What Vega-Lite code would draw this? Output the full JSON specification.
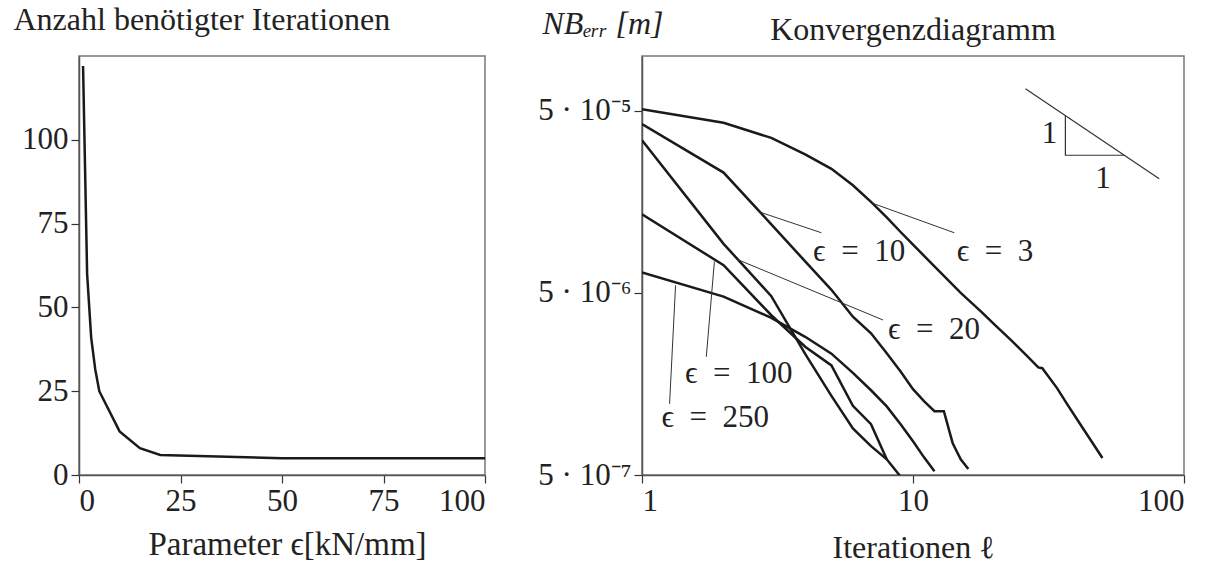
{
  "$schema": "https://vega.github.io/schema/vega-lite/v6.json",
  "background": "white",
  "padding": {"left": 12, "top": 2, "right": 5, "bottom": 0},
  "bounds": "flush",
  "spacing": 157,
  "config": {
    "font": "Liberation Serif",
    "view": {"stroke": "#777", "strokeWidth": 1.5},
    "axis": {
      "grid": false,
      "domainColor": "#555",
      "domainWidth": 1.5,
      "tickColor": "#333",
      "tickSize": 8,
      "tickWidth": 1.2,
      "labelFont": "Liberation Serif",
      "labelFontSize": 31,
      "labelColor": "#222",
      "labelPadding": 3,
      "titleFont": "Liberation Serif",
      "titleFontSize": 32,
      "titleFontWeight": "normal",
      "titleColor": "#222"
    },
    "title": {"font": "Liberation Serif", "fontSize": 32, "fontWeight": "normal", "color": "#222"}
  },
  "datasets": {
    "iterations": [
      {"eps": 1, "iter": 122},
      {"eps": 2, "iter": 60},
      {"eps": 3, "iter": 41},
      {"eps": 4, "iter": 31.5},
      {"eps": 5, "iter": 25},
      {"eps": 10, "iter": 13},
      {"eps": 15, "iter": 8},
      {"eps": 20, "iter": 6},
      {"eps": 50, "iter": 5},
      {"eps": 100, "iter": 5}
    ],
    "convergence": [
      {"series": "3", "it": 1, "err": 5.1e-5},
      {"series": "3", "it": 2, "err": 4.3e-5},
      {"series": "3", "it": 3, "err": 3.55e-5},
      {"series": "3", "it": 4, "err": 2.88e-5},
      {"series": "3", "it": 5, "err": 2.4e-5},
      {"series": "3", "it": 6, "err": 1.95e-5},
      {"series": "3", "it": 7, "err": 1.58e-5},
      {"series": "3", "it": 8, "err": 1.3e-5},
      {"series": "3", "it": 9, "err": 1.08e-5},
      {"series": "3", "it": 10, "err": 9.2e-6},
      {"series": "3", "it": 12, "err": 7.0e-6},
      {"series": "3", "it": 15, "err": 5.0e-6},
      {"series": "3", "it": 18, "err": 3.9e-6},
      {"series": "3", "it": 20, "err": 3.35e-6},
      {"series": "3", "it": 23, "err": 2.75e-6},
      {"series": "3", "it": 26, "err": 2.3e-6},
      {"series": "3", "it": 29, "err": 1.95e-6},
      {"series": "3", "it": 30, "err": 1.93e-6},
      {"series": "3", "it": 34, "err": 1.5e-6},
      {"series": "3", "it": 37, "err": 1.23e-6},
      {"series": "3", "it": 42, "err": 9.2e-7},
      {"series": "3", "it": 46, "err": 7.5e-7},
      {"series": "3", "it": 50, "err": 6.2e-7},
      {"series": "10", "it": 1, "err": 4.23e-5},
      {"series": "10", "it": 2, "err": 2.29e-5},
      {"series": "10", "it": 3, "err": 1.19e-5},
      {"series": "10", "it": 4, "err": 7.45e-6},
      {"series": "10", "it": 5, "err": 5.2e-6},
      {"series": "10", "it": 6, "err": 3.7e-6},
      {"series": "10", "it": 7, "err": 3.0e-6},
      {"series": "10", "it": 8, "err": 2.33e-6},
      {"series": "10", "it": 9, "err": 1.85e-6},
      {"series": "10", "it": 10, "err": 1.48e-6},
      {"series": "10", "it": 11, "err": 1.27e-6},
      {"series": "10", "it": 12, "err": 1.12e-6},
      {"series": "10", "it": 13, "err": 1.12e-6},
      {"series": "10", "it": 14, "err": 7.5e-7},
      {"series": "10", "it": 15, "err": 6.1e-7},
      {"series": "10", "it": 16, "err": 5.4e-7},
      {"series": "20", "it": 1, "err": 3.45e-5},
      {"series": "20", "it": 2, "err": 9.3e-6},
      {"series": "20", "it": 3, "err": 4.8e-6},
      {"series": "20", "it": 4, "err": 2.31e-6},
      {"series": "20", "it": 5, "err": 1.36e-6},
      {"series": "20", "it": 6, "err": 9.0e-7},
      {"series": "20", "it": 7, "err": 7.2e-7},
      {"series": "20", "it": 8, "err": 6.1e-7},
      {"series": "20", "it": 9, "err": 4.9e-7},
      {"series": "100", "it": 1, "err": 1.35e-5},
      {"series": "100", "it": 2, "err": 7.1e-6},
      {"series": "100", "it": 3, "err": 3.77e-6},
      {"series": "100", "it": 4, "err": 2.53e-6},
      {"series": "100", "it": 5, "err": 2.0e-6},
      {"series": "100", "it": 6, "err": 1.2e-6},
      {"series": "100", "it": 7, "err": 9.5e-7},
      {"series": "100", "it": 8, "err": 6.1e-7},
      {"series": "250", "it": 1, "err": 6.47e-6},
      {"series": "250", "it": 2, "err": 4.77e-6},
      {"series": "250", "it": 3, "err": 3.65e-6},
      {"series": "250", "it": 4, "err": 2.87e-6},
      {"series": "250", "it": 5, "err": 2.32e-6},
      {"series": "250", "it": 6, "err": 1.82e-6},
      {"series": "250", "it": 7, "err": 1.46e-6},
      {"series": "250", "it": 8, "err": 1.19e-6},
      {"series": "250", "it": 9, "err": 9.5e-7},
      {"series": "250", "it": 10, "err": 7.66e-7},
      {"series": "250", "it": 11, "err": 6.23e-7},
      {"series": "250", "it": 12, "err": 5.25e-7}
    ],
    "leaders": [
      {"id": "3", "o": 1, "x": 7.12, "y": 1.55e-5},
      {"id": "3", "o": 2, "x": 14.2, "y": 1.07e-5},
      {"id": "10", "o": 1, "x": 2.68, "y": 1.4e-5},
      {"id": "10", "o": 2, "x": 4.59, "y": 1.07e-5},
      {"id": "20", "o": 1, "x": 2.23, "y": 7.67e-6},
      {"id": "20", "o": 2, "x": 7.75, "y": 3.55e-6},
      {"id": "100", "o": 1, "x": 1.85, "y": 7.44e-6},
      {"id": "100", "o": 2, "x": 1.727, "y": 2.23e-6},
      {"id": "250", "o": 1, "x": 1.33, "y": 5.5e-6},
      {"id": "250", "o": 2, "x": 1.264, "y": 1.23e-6}
    ],
    "slope": [
      {"id": "line", "o": 1, "x": 26, "y": 6.6e-5},
      {"id": "line", "o": 2, "x": 81, "y": 2.12e-5},
      {"id": "tri", "o": 1, "x": 36.5, "y": 4.7e-5},
      {"id": "tri", "o": 2, "x": 36.5, "y": 2.85e-5},
      {"id": "tri", "o": 3, "x": 60, "y": 2.85e-5}
    ],
    "labels": [
      {"text": "ϵ\u2002=\u20023", "x": 14.5, "y": 8.4e-6},
      {"text": "ϵ\u2002=\u200210", "x": 4.28, "y": 8.36e-6},
      {"text": "ϵ\u2002=\u200220", "x": 8.09, "y": 3.13e-6},
      {"text": "ϵ\u2002=\u2002100", "x": 1.44, "y": 1.79e-6},
      {"text": "ϵ\u2002=\u2002250", "x": 1.18, "y": 1.03e-6}
    ],
    "ones": [
      {"text": "1", "x": 31.9, "y": 3.72e-5},
      {"text": "1", "x": 50.2, "y": 2.1e-5}
    ]
  },
  "hconcat": [
    {
      "width": 406,
      "height": 419,
      "data": {"name": "iterations"},
      "mark": {"type": "line", "stroke": "#1a1a1a", "strokeWidth": 2.5},
      "encoding": {
        "x": {
          "field": "eps",
          "type": "quantitative",
          "scale": {"domain": [0, 100], "nice": false},
          "axis": {"values": [0, 25, 50, 75, 100], "title": "Parameter  ϵ[kN/mm]", "titleFontSize": 33, "titleBaseline": "alphabetic", "titleY": 79, "titleX": 208}
        },
        "y": {
          "field": "iter",
          "type": "quantitative",
          "scale": {"domain": [0, 125], "nice": false},
          "axis": {
            "values": [0, 25, 50, 75, 100],
            "title": "Anzahl benötigter Iterationen",
            "titleAngle": 0,
            "titleAlign": "left",
            "titleBaseline": "alphabetic",
            "titleX": -66,
            "titleY": -27
          }
        }
      }
    },
    {
      "width": 542,
      "height": 419,
      "title": {"text": "Konvergenzdiagramm", "anchor": "middle", "offset": -40},
      "layer": [
        {
          "data": {"name": "convergence"},
          "mark": {"type": "line", "stroke": "#1a1a1a", "strokeWidth": 2.5, "clip": true},
          "encoding": {
            "x": {
              "field": "it",
              "type": "quantitative",
              "scale": {"type": "log", "domain": [1, 100], "nice": false},
              "axis": {"values": [1, 10, 100], "format": "d", "title": "Iterationen ℓ", "titleBaseline": "alphabetic", "titleY": 82}
            },
            "y": {
              "field": "err",
              "type": "quantitative",
              "scale": {"type": "log", "domain": [5e-7, 1e-4], "nice": false},
              "axis": {
                "values": [5e-7, 5e-6, 5e-5],
                "labelExpr": "datum.value < 1e-6 ? '5 · 10⁻⁷' : datum.value < 1e-5 ? '5 · 10⁻⁶' : '5 · 10⁻⁵'",
                "title": "NBₑᵣᵣ  [m]",
                "titleFontStyle": "italic",
                "titleAngle": 0,
                "titleAlign": "left",
                "titleBaseline": "alphabetic",
                "titleX": -100,
                "titleY": -23
              }
            },
            "detail": {"field": "series"}
          }
        },
        {
          "data": {"name": "leaders"},
          "mark": {"type": "line", "stroke": "#333", "strokeWidth": 1},
          "encoding": {
            "x": {"field": "x", "type": "quantitative"},
            "y": {"field": "y", "type": "quantitative"},
            "detail": {"field": "id"},
            "order": {"field": "o"}
          }
        },
        {
          "data": {"name": "slope"},
          "mark": {"type": "line", "stroke": "#333", "strokeWidth": 1.2},
          "encoding": {
            "x": {"field": "x", "type": "quantitative"},
            "y": {"field": "y", "type": "quantitative"},
            "detail": {"field": "id"},
            "order": {"field": "o"}
          }
        },
        {
          "data": {"name": "labels"},
          "mark": {"type": "text", "align": "left", "baseline": "middle", "fontSize": 31, "color": "#222", "font": "Liberation Serif"},
          "encoding": {
            "x": {"field": "x", "type": "quantitative"},
            "y": {"field": "y", "type": "quantitative"},
            "text": {"field": "text"}
          }
        },
        {
          "data": {"name": "ones"},
          "mark": {"type": "text", "align": "center", "baseline": "middle", "fontSize": 31, "color": "#222", "font": "Liberation Serif"},
          "encoding": {
            "x": {"field": "x", "type": "quantitative"},
            "y": {"field": "y", "type": "quantitative"},
            "text": {"field": "text"}
          }
        }
      ]
    }
  ]
}
